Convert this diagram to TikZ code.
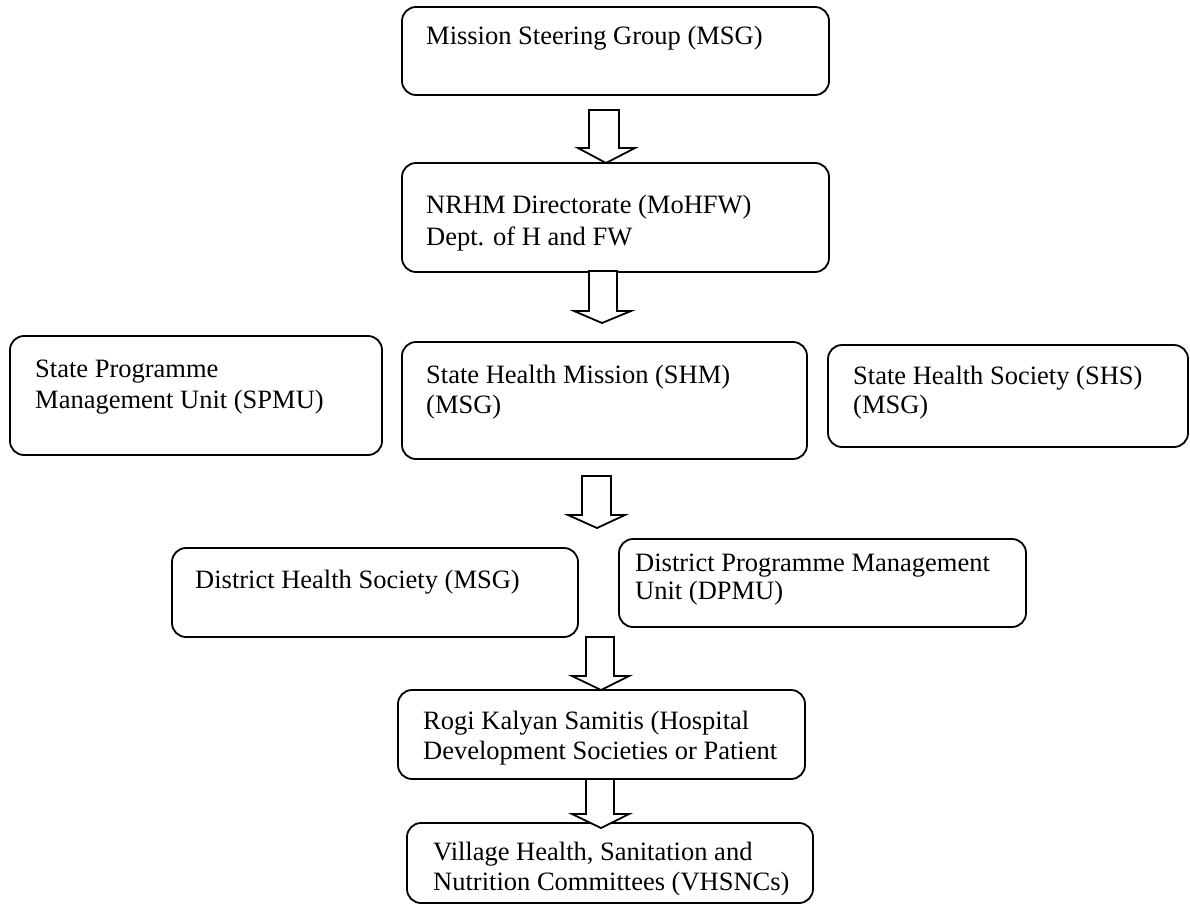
\documentclass[tikz,border=0pt]{standalone}
\usepackage{fontspec}
\setmainfont{Liberation Serif}
\usetikzlibrary{fit}
\newcommand{\tworows}[2]{\fontsize{26.5}{#1}\selectfont\begin{tabular}[t]{@{}l@{}}#2\end{tabular}}
\newcommand{\blockarrow}[8]{\draw[barrow] (#1,#3) -- (#2,#3) -- (#2,#4) -- (#6,#4) -- (#7,#8) -- (#5,#4) -- (#1,#4) -- cycle;}
\begin{document}
\begin{tikzpicture}[x=1pt,y=-1pt,
  box/.style={draw, line width=1.8pt, rounded corners=14pt, inner sep=0pt},
  barrow/.style={draw, line width=1.8pt, fill=white, line join=miter},
  txt/.style={anchor=base west, inner sep=0pt, font=\fontsize{26.5}{30}\selectfont}]
\useasboundingbox[fill=white] (0,0) rectangle (1190,905);

% boxes
\node[box, fit={(402,7) (829,95)}] (msg) {};
\node[box, fit={(402,163) (829,272)}] (nrhm) {};
\node[box, fit={(10,336) (382,455)}] (spmu) {};
\node[box, fit={(402,342) (807,459)}] (shm) {};
\node[box, fit={(828,345) (1188,447)}] (shs) {};
\node[box, fit={(172,548) (578,637)}] (dhs) {};
\node[box, fit={(619,539) (1026,627)}] (dpmu) {};
\node[box, fit={(398,690) (805,779)}] (rks) {};
\node[box, fit={(407,823) (813,903)}] (vhsnc) {};

% texts
\node[txt] (msgT) at (426,44) {Mission Steering Group (MSG)};
\node[txt] (nrhmT) at (426,213) {\tworows{32}{NRHM Directorate (MoHFW)\\Dept. of H and FW}};
\node[txt] (spmuT) at (35,377) {\tworows{31}{State Programme\\Management Unit (SPMU)}};
\node[txt] (shmT) at (426,383) {\tworows{30}{State Health Mission (SHM)\\(MSG)}};
\node[txt] (shsT) at (853,384) {\tworows{29}{State Health Society (SHS)\\(MSG)}};
\node[txt] (dhsT) at (195,588) {District Health Society (MSG)};
\node[txt] (dpmuT) at (635,571) {\tworows{28}{District Programme Management\\Unit (DPMU)}};
\node[txt] (rksT) at (423,729) {\tworows{30}{Rogi Kalyan Samitis (Hospital\\Development Societies or Patient}};
\begin{scope}
\clip (0,0) rectangle (1190,894);
\node[txt] (vhsncT) at (433,860) {\tworows{30}{Village Health, Sanitation and\\Nutrition Committees (VHSNCs)}};
\end{scope}

% block arrows
\blockarrow{589}{619}{110}{148}{578}{635}{606}{163}
\blockarrow{589}{617}{271}{311}{574}{631}{602}{323}
\blockarrow{582}{611}{476}{515}{568}{625}{597}{528}
\blockarrow{586}{614}{637}{676}{572}{629}{601}{690}
\blockarrow{586}{614}{779}{814}{572}{629}{601}{828}
\end{tikzpicture}
\end{document}
